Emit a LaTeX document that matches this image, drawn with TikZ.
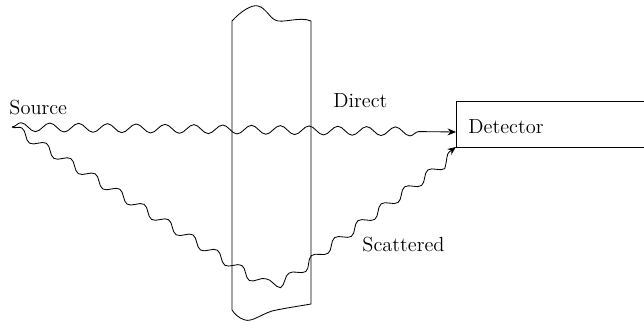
\documentclass[tikz,border=0pt]{standalone}
\usetikzlibrary{shapes,arrows,arrows.meta,positioning,calc,decorations.pathmorphing}
\begin{document}
\begin{tikzpicture}[
    x=0.025cm, y=-0.025cm, line width=0.6pt,
    label/.style={font=\fontsize{14.5}{16}\selectfont, inner sep=0pt, anchor=base west},
    ray/.style={decorate, decoration={snake, segment length=0.72cm, amplitude=0.11cm, post length=#1}},
    >={Stealth[length=6pt, width=5pt, inset=2pt]}
]
\useasboundingbox (0,0) rectangle (644,322);

% Slab
\draw (232,310) -- (232,21) .. controls (240,12) and (252,4) .. (258,6)
    .. controls (266,8) and (268,16) .. (275,20)
    .. controls (282,24) and (300,16) .. (311,21) -- (311,304)
    .. controls (300,306) and (285,308) .. (272,311)
    .. controls (260,315) and (252,322) .. (245,320)
    .. controls (238,318) and (234,313) .. (232,310);

% Labels
\node[label] (source) at (9,114) {Source};
\node[label] (direct) at (333,107) {Direct};
\node[label] (scattered) at (362,251) {Scattered};
\node[label] (detector) at (468,133) {Detector};

% Detector (open to the right)
\coordinate (det nw) at (456,101);
\coordinate (det sw) at (456,147);
\coordinate (det in) at (456,132);
\draw (644,101) -- (det nw) -- (det sw) -- (644,147);

% Rays
\coordinate (src) at (12,127);
\coordinate (s1) at (228,262);
\coordinate (s2) at (268,288);
\coordinate (s3) at (314,250);
\draw[->, ray=0.87cm] (src) -- (det in);
\draw[->, ray=0.2cm] (src) -- (s1) .. controls (s2) .. (s3) -- (det sw);
\end{tikzpicture}
\end{document}
